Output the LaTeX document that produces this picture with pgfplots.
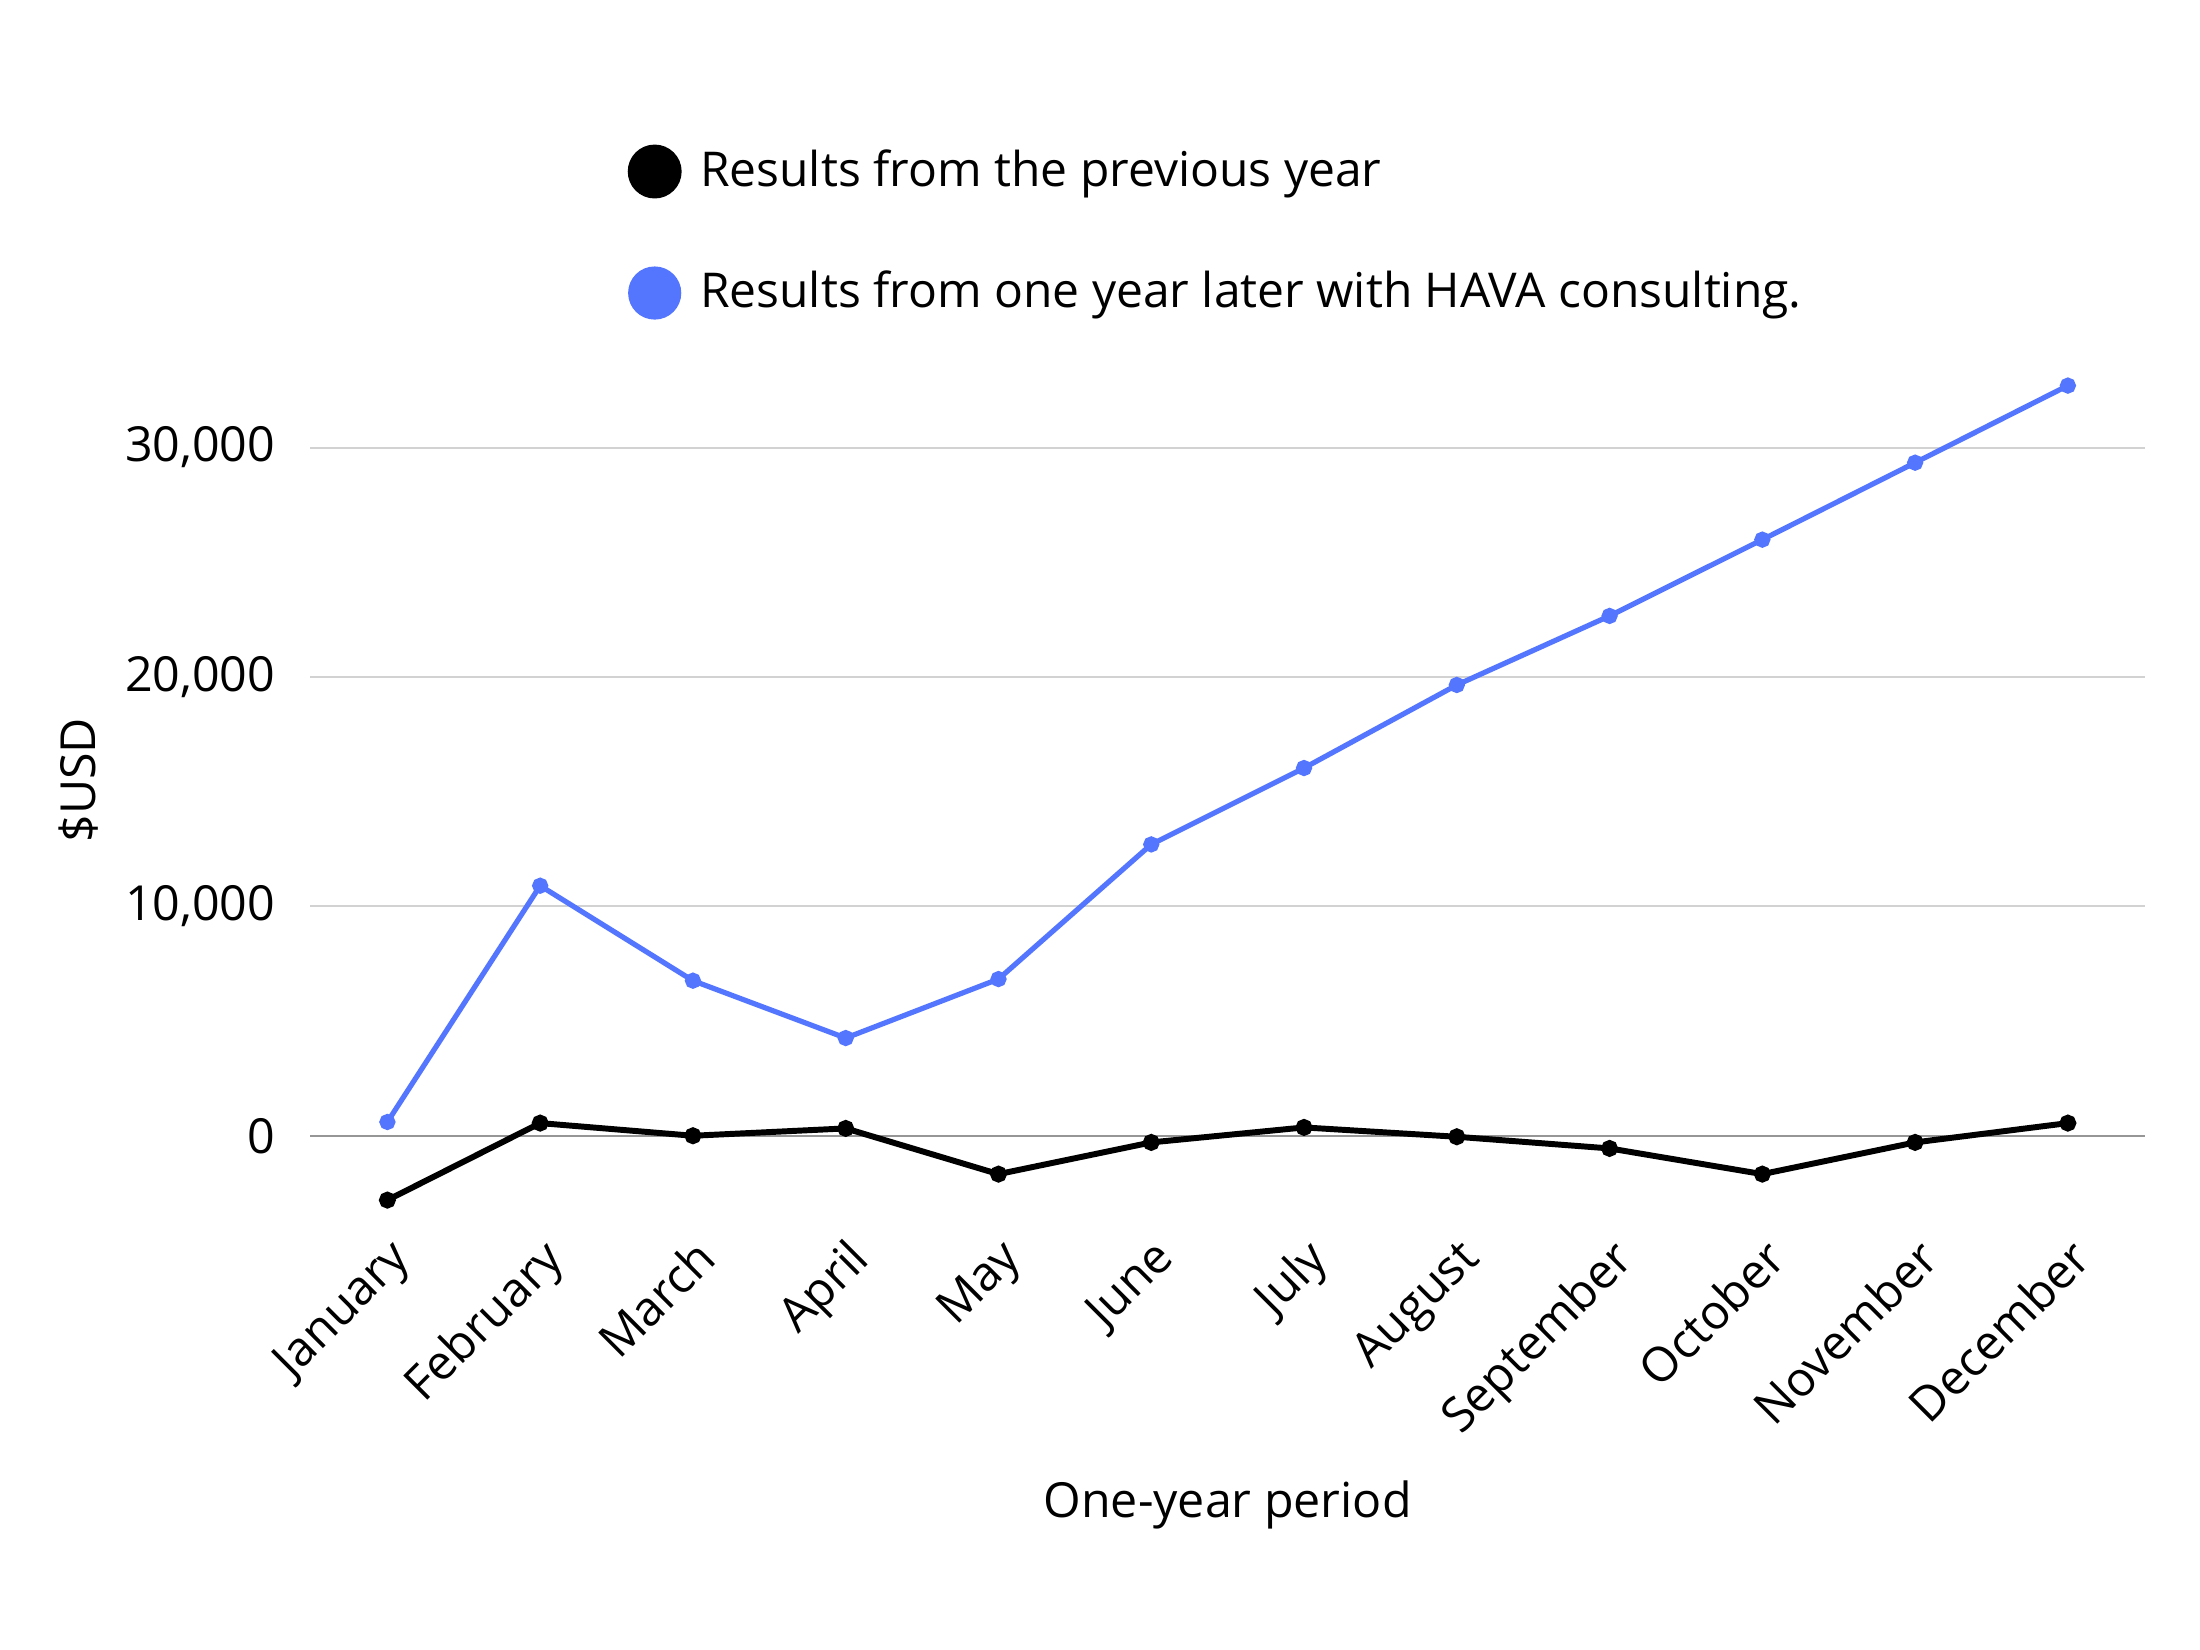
\documentclass[border=0pt]{standalone}
\usepackage{pgfplots}
\pgfplotsset{compat=1.18}
\usepackage{fontspec}
\setmainfont{Open Sans}

\definecolor{havablue}{RGB}{84,118,255}
\definecolor{gridgray}{RGB}{210,210,210}
\definecolor{zerogray}{RGB}{150,150,150}

\begin{document}
\begin{tikzpicture}
\fontsize{9.6}{11.5}\selectfont
\begin{axis}[
    scale only axis,
    width=13.01cm,
    height=6.344cm,
    xmin=-0.505, xmax=11.505,
    ymin=-4000, ymax=35000,
    axis line style={draw=none},
    major tick length=0pt,
    xtick={0,...,11},
    xticklabels={January,February,March,April,May,June,July,August,September,October,November,December},
    x tick label style={rotate=45, anchor=north east, inner sep=1pt, font=\fontsize{9.65}{11.5}\selectfont},
    xticklabel shift=0mm,
    ytick={0,10000,20000,30000},
    y tick label style={font=\fontsize{9.75}{11.5}\selectfont},
    yticklabel shift=1.3mm,
    scaled y ticks=false,
    /pgf/number format/.cd, 1000 sep={,}, assume math mode=true,
    /pgfplots/.cd,
    ymajorgrids,
    grid style={gridgray, line width=0.4pt},
    extra y ticks={0},
    extra y tick labels={},
    extra y tick style={grid style={zerogray, line width=0.5pt}},
    xlabel={One-year period},
    ylabel={\$USD},
    label style={font=\fontsize{9.75}{11.5}\selectfont},
    xlabel style={yshift=-0.9mm},
    ylabel style={yshift=-3mm},
    legend style={draw=none, fill=none, at={(0.1725,1.217)}, anchor=north west,
        font=\fontsize{9.68}{11.5}\selectfont, row sep=4.1mm, inner sep=0pt,
        /tikz/every even column/.append style={column sep=0pt}},
    legend cell align=left,
    legend image code/.code={\fill[#1] (0cm,0cm) circle (0.17cm); \path (0.23cm,0cm);},
]
\addplot[black, line width=1.2pt, mark=*, mark size=1.1pt] coordinates {
(0,-2805) (1,552) (2,0) (3,320) (4,-1672) (5,-290)
(6,363) (7,-44) (8,-552) (9,-1672) (10,-290) (11,552)
};
\addlegendentry{Results from the previous year}
\addplot[havablue, line width=1.05pt, mark=*, mark size=1.1pt] coordinates {
(0,600) (1,10900) (2,6760) (3,4260) (4,6830) (5,12700)
(6,16030) (7,19650) (8,22660) (9,25985) (10,29340) (11,32700)
};
\addlegendentry{Results from one year later with HAVA consulting.}
\end{axis}
\path ([xshift=-2.2cm,yshift=-2.994cm]current axis.south west) rectangle ([xshift=0.39cm,yshift=2.36cm]current axis.north east);
\end{tikzpicture}
\end{document}
